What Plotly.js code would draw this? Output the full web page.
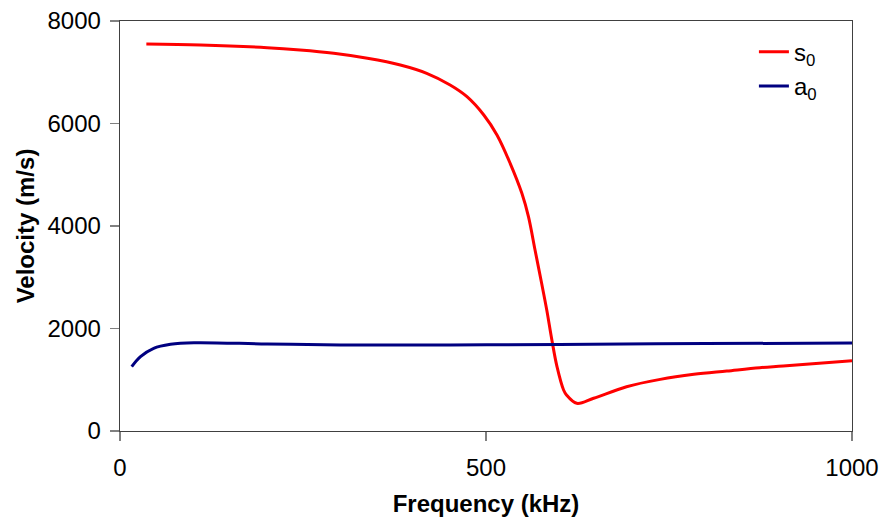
<!DOCTYPE html>
<html>
<head>
<meta charset="utf-8">
<script src="https://cdn.plot.ly/plotly-3.0.1.min.js"></script>
<style>html,body{margin:0;padding:0;background:#fff;}#chart{width:886px;height:518px;}</style>
</head>
<body>
<div id="chart"></div>
<script>
// Frequency (kHz) and velocity (m/s) values
const s0Freq = [36,110,201,246,292,338,383,419,451,474,497,515,533,549,558,567,576,583,590,597,606,610,624,647,692,738,784,829,874,906,1000];
const s0Vel  = [7551,7532,7479,7434,7369,7272,7141,6979,6751,6523,6166,5776,5223,4638,4183,3532,2882,2361,1776,1255,800,702,540,638,864,1007,1106,1171,1235,1268,1370];
const a0Freq = [16,28,46,69,101,201,301,451,600,800,1000];
const a0Vel  = [1255,1450,1613,1691,1723,1698,1680,1680,1690,1705,1717];
const xTicks = [0,500,1000];
const yTicks = [0,2000,4000,6000,8000];
const seriesNames = ['s<sub>0</sub>','a<sub>0</sub>'];

const font = 'Arial, "Liberation Sans", sans-serif';
const traces = [
  {x:s0Freq, y:s0Vel, name:seriesNames[0], mode:'lines', line:{color:'#ff0000', width:3, shape:'spline', smoothing:1}},
  {x:a0Freq, y:a0Vel, name:seriesNames[1], mode:'lines', line:{color:'#000080', width:3, shape:'spline', smoothing:1}}
];
const axisCommon = {
  showgrid:false, zeroline:false, showline:true, linecolor:'#404040', linewidth:1.3,
  mirror:true, ticks:'outside', ticklen:9, tickcolor:'#808080', tickwidth:1.3,
  tickfont:{family:font, size:24, color:'#000'}
};
const layout = {
  width:886, height:518,
  margin:{l:120, r:34, t:21, b:87},
  paper_bgcolor:'#fff', plot_bgcolor:'#fff',
  showlegend:true,
  legend:{x:0.866, y:0.979, xanchor:'left', yanchor:'top', bgcolor:'rgba(0,0,0,0)',
    font:{family:font, size:24, color:'#000'}, tracegroupgap:0, itemwidth:30},
  xaxis:Object.assign({}, axisCommon, {range:[0,1000], tickvals:xTicks, ticktext:xTicks.map(String),
    ticklabelstandoff:6,
    title:{text:'<b>Frequency (kHz)</b>', font:{family:font, size:24, color:'#000'}, standoff:15}}),
  yaxis:Object.assign({}, axisCommon, {range:[0,8000], tickvals:yTicks, ticktext:yTicks.map(String),
    ticklabelstandoff:4,
    title:{text:'<b>Velocity (m/s)</b>', font:{family:font, size:24, color:'#000'}, standoff:6}})
};
Plotly.newPlot('chart', traces, layout, {staticPlot:true, displayModeBar:false});
</script>
</body>
</html>
